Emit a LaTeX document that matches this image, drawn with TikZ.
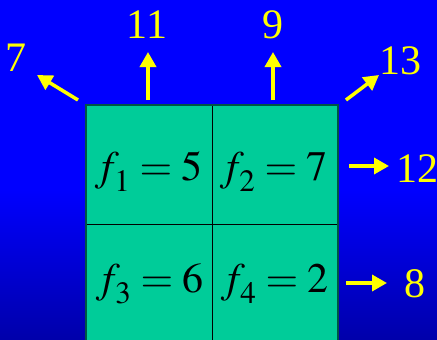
\documentclass[tikz,border=0pt]{standalone}
\usepackage{mathptmx}
\usepackage{fontspec}
\setmainfont{Liberation Serif}
\usetikzlibrary{arrows.meta}
\definecolor{slide}{HTML}{0000FF}
\definecolor{slidedark}{HTML}{0000AA}
\definecolor{cellfill}{HTML}{00CC99}
\definecolor{celledge}{HTML}{005544}
\definecolor{flux}{HTML}{FFFF00}
\newcommand{\fsub}[1]{f_{\lower5pt\hbox{$\scriptstyle #1$}}}
\tikzset{
  flow/.style={draw=flux,line width=3.5pt,-{Triangle[length=15pt,width=16pt]}},
  val/.style={text=flux,font=\fontsize{42}{42}\selectfont,inner sep=0pt,anchor=base},
  cellval/.style={font=\fontsize{42}{42}\selectfont,inner sep=0pt,anchor=base}
}

\begin{document}
\begin{tikzpicture}[x=1pt,y=-1pt]
\useasboundingbox (0,0) rectangle (437,340);
% slide background
\fill[slide] (0,0) rectangle (437,190);
\shade[top color=slide,bottom color=slidedark] (0,189.5) rectangle (437,340);
% grid of four cells
\fill[cellfill] (86,105) rectangle (338,345);
\draw[black,line width=0.8pt] (212,105) -- (212,345) (86,224) -- (338,224);
\draw[celledge,line width=1.2pt] (86,345) -- (86,105) -- (338,105) -- (338,345);
\node[cellval] (f1) at (149,180) {$\fsub{1}=5$};
\node[cellval] (f2) at (274,180) {$\fsub{2}=7$};
\node[cellval] (f3) at (150,292) {$\fsub{3}=6$};
\node[cellval] (f4) at (275,292) {$\fsub{4}=2$};
% outgoing values
\foreach \n/\sx/\sy/\ex/\ey in {7/78/100/37/75, 11/148/100/148/52, 9/273/100/273/52,
  13/346/100/379/75, 12/349/166/389/166, 8/346/283/387/283}{
  \coordinate (s\n) at (\sx,\sy);
  \coordinate (e\n) at (\ex,\ey);
  \draw[flow] (s\n) -- (e\n);
}
\foreach \n/\x/\y in {7/16/71, 11/147/38, 9/273/38, 13/400/74, 12/417/182, 8/415/297}
  \node[val] (v\n) at (\x,\y) {\n};
\end{tikzpicture}
\end{document}
